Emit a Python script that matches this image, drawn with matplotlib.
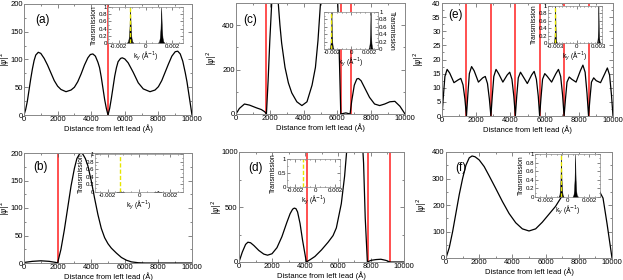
import matplotlib
matplotlib.use("Agg")
import matplotlib.pyplot as plt
from matplotlib.ticker import MultipleLocator

plt.rcParams['font.family'] = ['Liberation Sans', 'DejaVu Sans']

W, H = 623, 280

# ---- main curves |psi|^2 vs distance ----
xa = [0, 100, 200, 300, 400, 500, 600, 700, 850, 1000, 1200, 1400, 1600, 1800, 2000, 2200,
      2500, 2800, 3000, 3200, 3400, 3600, 3800, 3950, 4100, 4250, 4400, 4500, 4600, 4700,
      4800, 4900, 5000, 5100, 5200, 5300, 5400, 5500, 5600, 5750, 5850, 6000, 6200, 6500,
      6800, 7100, 7500, 7800, 8000, 8200, 8400, 8600, 8800, 9000, 9150, 9300, 9450, 9600,
      9700, 9800, 9900, 10000]
ya = [0, 10, 25, 45, 65, 83, 98, 108, 113, 111, 102, 90, 76, 62, 52, 46,
      42, 45, 50, 60, 74, 90, 103, 109, 110, 106, 95, 85, 68, 48,
      28, 12, 0, 12, 30, 50, 70, 85, 96, 102, 103, 101, 94, 77,
      58, 47, 42, 45, 51, 62, 77, 92, 106, 114, 115, 110, 97, 76,
      60, 40, 20, 0]

xb = [0, 500, 1000, 1500, 1900, 2000, 2200, 2400, 2600, 2800, 3000, 3150, 3300, 3400,
      3500, 3650, 3800, 4000, 4200, 4400, 4600, 4800, 5000, 5200, 5500, 5800, 6100, 6400,
      6800, 7200, 10000]
yb = [1, 3, 4, 3, 1, 0, 25, 60, 100, 140, 172, 190, 198, 200,
      198, 190, 177, 150, 118, 88, 63, 46, 35, 27, 18, 10, 5, 2,
      0.5, 0, 0]

xc = [0, 200, 500, 800, 1200, 1500, 1700, 1800, 1900, 2000, 2100, 2200, 2300, 2400, 2500,
      2600, 2700, 2900, 3100, 3300, 3600, 3900, 4200, 4500, 4700, 4850, 5000, 5300, 5600,
      5900, 6100, 6200, 6500, 6750, 6850, 7000, 7150, 7250, 7400, 7600, 7900, 8200, 8500,
      8800, 9100, 9400, 9700, 10000]
yc = [0, 25, 45, 40, 28, 20, 10, 0, 150, 330, 480, 620, 680, 620, 500,
      400, 320, 210, 140, 95, 55, 38, 55, 130, 210, 330, 500, 800, 1000,
      800, 300, 0, 5, 0, 60, 130, 158, 160, 150, 120, 75, 45, 38,
      45, 55, 57, 35, 0]

xd = [0, 200, 400, 540, 700, 900, 1200, 1500, 1730, 2000, 2300, 2600, 2900, 3100, 3250,
      3350, 3450, 3550, 3700, 3850, 4000, 4080, 4300, 4600, 5000, 5400, 5700, 5900, 6200,
      6400, 6550, 6800, 7100, 7400, 7550, 7650, 7780, 8000, 8300, 8600, 8900, 9150,
      10000]
yd = [0, 90, 160, 180, 175, 150, 105, 72, 62, 75, 130, 230, 360, 440, 480,
      490, 485, 455, 350, 200, 70, 0, 20, 50, 110, 180, 240, 310, 530,
      780, 1050, 1400, 1500, 1300, 900, 400, 0, 15, 22, 25, 15, 0,
      0]

xe = [0, 80, 170, 300, 450, 700, 950, 1100, 1230, 1340, 1430,
      1510, 1600, 1730, 1880, 2130, 2380, 2530, 2660, 2770, 2860,
      2940, 3030, 3160, 3310, 3560, 3810, 3960, 4090, 4200, 4290,
      4370, 4460, 4590, 4740, 4990, 5240, 5390, 5520, 5630, 5710,
      5790, 5880, 6010, 6160, 6410, 6660, 6810, 6940, 7050, 7140,
      7220, 7310, 7440, 7590, 7840, 8090, 8240, 8370, 8480, 8570,
      8650, 8740, 8870, 9020, 9270, 9520, 9670, 9800, 9910, 10000]
ye = [0, 7, 14, 16.5, 15.2, 11.8, 12.8, 13.3, 11, 6, 0,
      7.5, 15, 17.5, 16, 12, 13.5, 14, 11.5, 6, 0,
      7, 14, 16.5, 15, 12, 14.5, 15.5, 13, 7, 0,
      7, 13.5, 15.5, 14, 11.5, 14.5, 15.8, 13, 7, 0,
      6.5, 13, 15, 14, 12, 15, 16.5, 14, 7.5, 0,
      6, 12, 13.8, 13, 12, 16, 18, 15.5, 8, 0,
      6, 12, 13.5, 12.5, 11.8, 15, 17, 14.5, 7.5, 0]

xf = [0, 200, 400, 600, 800, 1000, 1200, 1400, 1570, 1750, 2000, 2300, 2600, 3000, 3400,
      3800, 4200, 4600, 5000, 5400, 5800, 6200, 6600, 7000, 7500, 8000, 8500, 9000, 9460,
      9700, 10000]
yf = [0, 40, 100, 170, 240, 300, 350, 378, 385, 382, 370, 345, 310, 262, 213,
      168, 133, 110, 102, 110, 135, 165, 195, 235, 275, 300, 305, 280, 226,
      130, 0]

# red vertical lines (barrier positions)
red_a = [5000]
red_b = [2000]
red_c = [1800, 6200, 6800]
red_d = [4100, 7800, 9150]
red_e = [1430, 2860, 4290, 5710, 7140, 8570]
red_f = []

# ---- insets: transmission vs k_y ----
dk = [-0.00025, -0.00015, -0.0001, -0.00005, -0.00002, 0, 0.00002, 0.00005, 0.0001, 0.00015, 0.00025]
tk = [0, 0.05, 0.15, 0.4, 0.75, 1, 0.75, 0.4, 0.15, 0.05, 0]

peaks_a = [(-0.00115, 1.0), (0.00117, 1.0)]
peaks_b = [(-0.0012, 0.03), (0.0012, 0.03)]
peaks_c = [(-0.0021, 1.0), (0.0021, 1.0)]
peaks_d = []
peaks_e = [(-0.003, 1.0), (0.003, 1.0)]
peaks_f = [(-0.0006, 1.0), (0.0007, 1.0)]

yel_a, yel_b, yel_c, yel_d, yel_e, yel_f = -0.00115, -0.0012, -0.0021, -0.0012, -0.003, -0.0006

fig = plt.figure(figsize=(W / 100, H / 100), dpi=100)


def box(x0, y0, x1, y1):
    return [x0 / W, 1 - y1 / H, (x1 - x0) / W, (y1 - y0) / H]


def style(ax, lab, maj, mnr, lw):
    ax.tick_params(which='both', direction='in', top=True, right=True, labelsize=lab, pad=1,
                   color='#555555')
    ax.tick_params(which='major', length=maj, width=0.5)
    ax.tick_params(which='minor', length=mnr, width=0.5)
    for s in ax.spines.values():
        s.set_color('#888888')
        s.set_linewidth(lw)


def main_panel(rect, x, y, reds, ylim, ymaj, ymin, label, lpos, ylx):
    ax = fig.add_axes(box(*rect))
    for r in reds:
        ax.axvline(r, color='#ff2020', lw=1.3, alpha=0.85, zorder=1)
    ax.plot(x, y, color='black', lw=0.9, zorder=2)
    ax.set_xlim(0, 10000)
    ax.set_ylim(*ylim)
    ax.xaxis.set_major_locator(MultipleLocator(2000))
    ax.xaxis.set_minor_locator(MultipleLocator(1000))
    ax.yaxis.set_major_locator(MultipleLocator(ymaj))
    ax.yaxis.set_minor_locator(MultipleLocator(ymin))
    style(ax, 5.5, 3, 1.6, 0.7)
    ax.set_xlabel('Distance from left lead (Å)', fontsize=5.5, labelpad=1)
    ax.set_ylabel(r'$|\psi|^2$', fontsize=5.5)
    ax.yaxis.set_label_coords((ylx - rect[0]) / (rect[2] - rect[0]), 0.5)
    ax.text(lpos[0], lpos[1], label, transform=ax.transAxes, fontsize=8.5, va='center')
    return ax


def inset(rect, peaks, yel, xlim, xticks, right=False, yt=0.2, opaque=True):
    ax = fig.add_axes(box(*rect))
    ax.set_facecolor('white' if opaque else 'none')
    ax.set_zorder(5)
    for c, h in peaks:
        xs = [c + d for d in dk]
        ts = [h * t for t in tk]
        ax.fill_between(xs, 0, ts, color='black', lw=0.3)
    ax.plot([yel, yel], [0, 1], color='#e6e600', ls=(0, (3, 1.5)), lw=1.0)
    ax.set_xticks(xticks)
    ax.set_xticklabels(['%g' % t for t in xticks])
    ax.xaxis.set_minor_locator(MultipleLocator(0.0005))
    yticks = [0, 0.5, 1] if yt == 0.5 else [0, 0.2, 0.4, 0.6, 0.8, 1]
    ax.set_yticks(yticks)
    ax.set_yticklabels(['%g' % t for t in yticks])
    ax.yaxis.set_minor_locator(MultipleLocator(yt / 2))
    ax.set_xlim(*xlim)
    ax.set_ylim(0, 1)
    style(ax, 4.4, 2, 1, 0.5)
    ax.tick_params(pad=0.8)
    ax.set_xlabel(r'k$_y$ (Å$^{-1}$)', fontsize=4.8, labelpad=0.5)
    ax.set_ylabel('Transmission', fontsize=4.8, labelpad=0.5)
    if right:
        ax.yaxis.set_label_position('right')
        ax.yaxis.tick_right()
        ax.tick_params(which='both', left=True)
        ax.yaxis.label.set_rotation(270)
        ax.yaxis.labelpad = 5
    return ax


main_panel((24, 4, 192, 115), xa, ya, red_a, (0, 200), 50, 25, '(a)', (0.065, 0.86), 11.5)
main_panel((24, 153, 192, 263), xb, yb, red_b, (0, 200), 50, 25, '(b)', (0.055, 0.87), 11.5)
main_panel((236, 3, 405, 114), xc, yc, red_c, (0, 500), 200, 100, '(c)', (0.04, 0.85), 219)
main_panel((239, 152, 404, 262), xd, yd, red_d, (0, 1000), 500, 250, '(d)', (0.055, 0.85), 224)
main_panel((442, 3, 613, 116), xe, ye, red_e, (0, 40), 5, 2.5, '(e)', (0.035, 0.89), 426)
main_panel((446, 152, 612, 258), xf, yf, red_f, (0, 400), 100, 50, '(f)', (0.054, 0.85), 429)

inset((108, 7, 183, 43), peaks_a, yel_a, (-0.0028, 0.0028), [-0.002, 0, 0.002])
inset((95, 154, 183, 192), peaks_b, yel_b, (-0.0028, 0.0028), [-0.002, 0, 0.002])
inset((324, 12, 378, 49), peaks_c, yel_c, (-0.0029, 0.0029), [-0.002, 0, 0.002], right=True)
inset((287, 159, 340, 187), peaks_d, yel_d, (-0.0028, 0.0025), [-0.002, 0, 0.002], yt=0.5,
      opaque=False)
inset((548, 6, 602, 43), peaks_e, yel_e, (-0.0040, 0.0035), [-0.003, 0, 0.003])
inset((535, 154, 600, 197), peaks_f, yel_f, (-0.003, 0.003), [-0.002, 0, 0.002])

fig.savefig('out.png', dpi=100)
